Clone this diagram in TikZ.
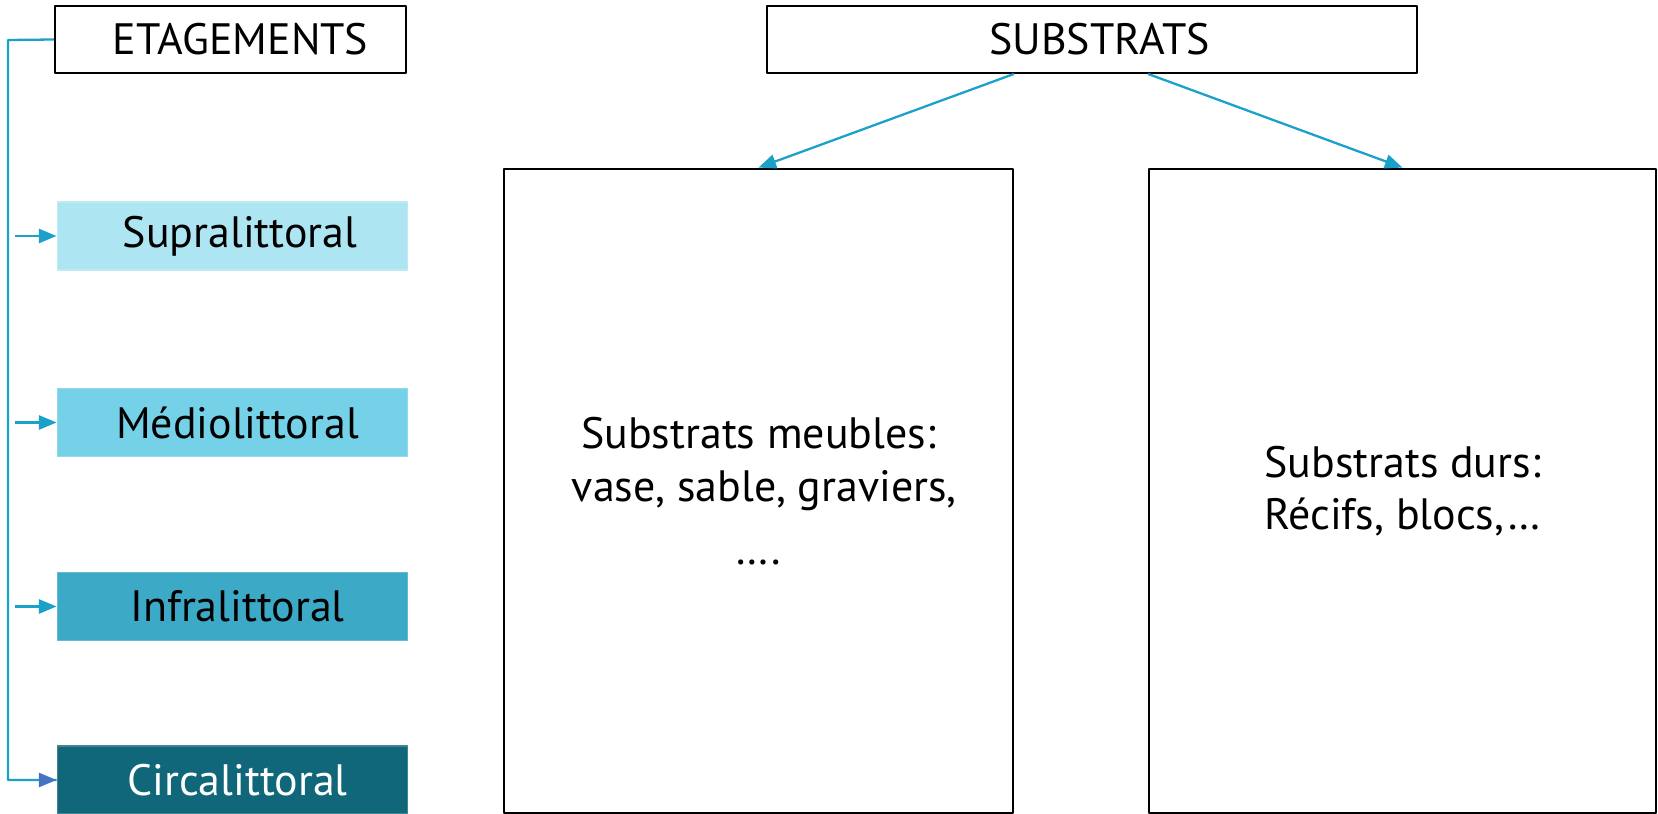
\documentclass[tikz,border=0pt]{standalone}
\usepackage{fontspec}
\setmainfont{PT Sans}
\usetikzlibrary{arrows.meta}
\definecolor{supra}{HTML}{ADE5F3}
\definecolor{medio}{HTML}{75D1E8}
\definecolor{infra}{HTML}{3CA9C7}
\definecolor{circa}{HTML}{10677A}
\definecolor{lienbleu}{HTML}{1BA1C9}
\definecolor{pointe}{HTML}{4472C4}
\tikzset{
	titre/.style={draw, line width=1.1pt, inner sep=0pt, minimum height=1.34cm},
	etage/.style={fill=#1, draw=#1!80!white, line width=0.6pt, inner sep=0pt, minimum width=7.02cm, minimum height=1.36cm},
	grand/.style={draw, line width=1.1pt, inner sep=0pt, align=center, minimum height=12.9cm},
	lien/.style={draw=lienbleu, line width=1.3pt}
}
\begin{document}
\begin{tikzpicture}[x=0.02cm, y=-0.02cm, >={Triangle[length=10pt,width=8pt]}, font=\fontsize{25}{30}\selectfont, line join=round]
	\useasboundingbox (0,0) rectangle (1658,814);
	
	% titres
	\node[titre, minimum width=7.02cm] (etag) at (230.5,39.5) {\hspace*{0.4cm}ETAGEMENTS};
	\node[titre, minimum width=13cm] (subst) at (1092,39.5) {\hspace*{0.3cm}SUBSTRATS};
	
	% etages
	\node[etage=supra] (sup) at (232.5,236) {\hspace*{0.3cm}Supralittoral};
	\node[etage=medio] (med) at (232.5,422.5) {\hspace*{0.2cm}Médiolittoral};
	\node[etage=infra] (inf) at (232.5,606.5) {\hspace*{0.2cm}Infralittoral};
	\node[etage=circa, text=white] (cir) at (232.5,780) {\hspace*{0.2cm}Circalittoral};
	
	% substrats
	\node[grand, minimum width=10.18cm] (meub) at (758.5,491) {Substrats meubles:\\ \ vase, sable, graviers,\\[0.2cm] ….};
	\node[grand, minimum width=10.14cm] (durs) at (1402.5,491) {Substrats durs:\\ Récifs, blocs,…};
	
	\coordinate (haut) at (8,40);
	\coordinate (g) at (15,0);
	\draw[lien] (etag.west) -- (haut) |- (cir.west);
	\draw[lien, -{Triangle[length=10pt,width=8pt,color=pointe]}] (g |- cir.west) -- (cir.west);
	\foreach \n in {sup,med,inf}
		\draw[lien, ->] (g |- \n.west) -- (\n.west);
	
	\draw[lien, ->] (meub.north east |- subst.south) -- (meub.north);
	\draw[lien, ->] (durs.north west |- subst.south) -- (durs.north);
	
\end{tikzpicture}
\end{document}
